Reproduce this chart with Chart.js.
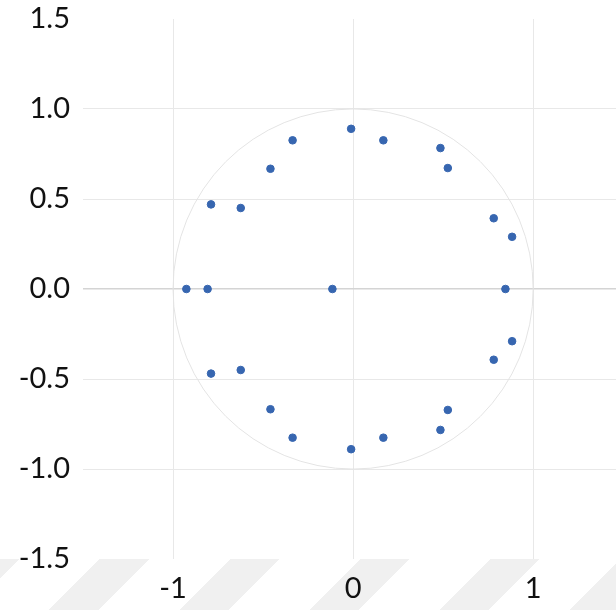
<!DOCTYPE html>
<html>
<head>
<meta charset="utf-8">
<script src="https://cdn.jsdelivr.net/npm/chart.js@4.4.0/dist/chart.umd.min.js"></script>
<style>
  html, body { margin: 0; padding: 0; background: #fff; overflow: hidden; }
  #wrap { position: relative; width: 616px; height: 610px; overflow: hidden; }
  #stripes {
    position: absolute; left: 0; top: 559px; width: 616px; height: 51px;
    background: repeating-linear-gradient(135deg, #f0f0f0 0 13.7px, transparent 13.7px 70.7px, #f0f0f0 70.7px 92px);
  }
  #chart { position: absolute; left: 0; top: 0; }
</style>
</head>
<body>
<div id="wrap">
  <div id="stripes"></div>
  <canvas id="chart" width="628" height="610"></canvas>
</div>
<script>
// points
const xValues = [-0.926, -0.808, -0.115, 0.846,
  -0.789, -0.624, -0.459, -0.336, -0.011, 0.168, 0.485, 0.526, 0.781, 0.883,
  -0.789, -0.624, -0.459, -0.336, -0.011, 0.168, 0.485, 0.526, 0.781, 0.883];
const yValues = [0, 0, 0, 0,
  0.470, 0.450, 0.668, 0.826, 0.890, 0.826, 0.783, 0.672, 0.393, 0.290,
  -0.470, -0.450, -0.668, -0.826, -0.890, -0.826, -0.783, -0.672, -0.393, -0.290];

const xTicks = [-1, 0, 1];
const yTicks = [-1.5, -1, -0.5, 0, 0.5, 1, 1.5];
const circleRadius = 1;

const points = xValues.map((x, i) => ({ x: x, y: yValues[i] }));

// light unit circle behind the points
const circlePlugin = {
  id: 'unitCircle',
  beforeDatasetsDraw(chart) {
    const xs = chart.scales.x, ys = chart.scales.y;
    const cx = xs.getPixelForValue(0);
    const cy = ys.getPixelForValue(0);
    const r = xs.getPixelForValue(circleRadius) - cx;
    const ctx = chart.ctx;
    ctx.save();
    ctx.beginPath();
    ctx.arc(cx, cy, r, 0, Math.PI * 2);
    ctx.strokeStyle = '#e4e4e4';
    ctx.lineWidth = 1;
    ctx.stroke();
    ctx.restore();
  }
};

const tickFont = { family: 'Lato', size: 29 };

function noOverflow(s) {
  s.paddingTop = 0;
  s.paddingBottom = 0;
  s.paddingLeft = 0;
  s.paddingRight = 0;
}

new Chart(document.getElementById('chart'), {
  type: 'scatter',
  data: {
    datasets: [{
      data: points,
      backgroundColor: '#3766b0',
      borderColor: '#3766b0',
      pointRadius: 3.8,
      pointHoverRadius: 3.8
    }]
  },
  options: {
    responsive: false,
    animation: false,
    layout: { padding: { top: 19, right: 1, left: 0, bottom: 0 } },
    plugins: { legend: { display: false }, tooltip: { enabled: false } },
    scales: {
      x: {
        min: -1.5,
        max: 1.5,
        afterBuildTicks: (s) => { s.ticks = xTicks.map(v => ({ value: v })); },
        afterFit: (s) => { s.height = 51; noOverflow(s); },
        border: { display: false },
        grid: { color: '#e8e8e8', lineWidth: 1, drawTicks: false },
        ticks: { font: tickFont, color: '#111', padding: 12, maxRotation: 0,
          callback: (v) => String(v) }
      },
      y: {
        min: -1.5,
        max: 1.5,
        afterBuildTicks: (s) => { s.ticks = yTicks.map(v => ({ value: v })); },
        afterFit: (s) => { s.width = 83; noOverflow(s); },
        border: { display: false },
        grid: {
          drawTicks: false,
          color: (c) => {
            const v = c.tick ? c.tick.value : null;
            if (v === 1.5 || v === -1.5) return 'rgba(0,0,0,0)';
            return v === 0 ? '#d4d4d4' : '#e8e8e8';
          },
          lineWidth: (c) => (c.tick && c.tick.value === 0 ? 1.6 : 1)
        },
        ticks: { font: tickFont, color: '#111', padding: 13,
          callback: (v) => Number(v).toFixed(1) }
      }
    }
  },
  plugins: [circlePlugin]
});
</script>
</body>
</html>
